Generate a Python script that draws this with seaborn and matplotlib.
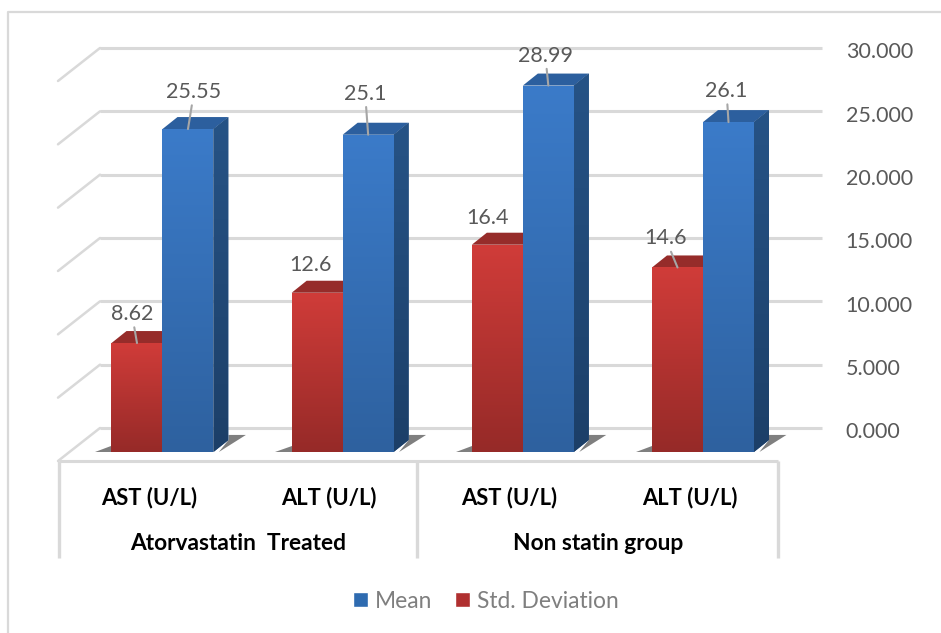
"""Atorvastatin vs non statin liver enzymes, drawn as a fake 3D column chart."""

import matplotlib
matplotlib.use("Agg")
import matplotlib.pyplot as plt
import numpy as np
import pandas as pd
import seaborn as sns
from matplotlib.colors import LinearSegmentedColormap
from matplotlib.lines import Line2D
from matplotlib.patches import Patch, Polygon
from matplotlib.transforms import ScaledTranslation

GROUPS = ["Atorvastatin  Treated", "Non statin group"]
ENZYMES = ["AST (U/L)", "ALT (U/L)", "AST (U/L)", "ALT (U/L)"]
CATEGORY_GROUP = [0, 0, 1, 1]
MEAN = [25.55, 25.1, 28.99, 26.1]
STD_DEV = [8.62, 12.6, 16.4, 14.6]
MEAN_TEXT = ["25.55", "25.1", "28.99", "26.1"]
STD_TEXT = ["8.62", "12.6", "16.4", "14.6"]
Y_TICKS = [0, 5, 10, 15, 20, 25, 30]

# layout, in pixels of the 941x633 picture
W, H = 941, 633
PX_PER_CAT = 180.2
PX_PER_UNIT = 12.64
DEPTH_PX = (15, 12)
MEAN_OFFSETS = [(6, 37), (-3, 41), (-3, 30), (-2, 31)]
STD_OFFSETS = [(-5, 29), (-7, 28), (-10, 27), (-12, 29)]
STD_LEADER = [True, False, False, True]

BLUE = {"front": ["#3B7BC9", "#2E619F"], "side": ["#265386", "#1C3F68"], "top": "#2C5F9E"}
RED = {"front": ["#D03C39", "#962A28"], "side": ["#7C2422", "#6E1F1E"], "top": "#962C2A"}
GRID = "#D9D9D9"
TEXT = "#595959"
SHADOW = "#5F5F5F"


def box(left, top, right, bottom):
    return [left / W, 1 - bottom / H, (right - left) / W, (bottom - top) / H]


def fig_line(fig, xs, ys, lw=2.0):
    fig.add_artist(Line2D([x / W for x in xs], [1 - y / H for y in ys],
                          color=GRID, lw=lw, solid_capstyle="butt"))


sns.set_theme(style="white")
plt.rcParams["font.family"] = ["Lato", "DejaVu Sans"]

df = pd.DataFrame({
    "category": [f"{GROUPS[g]} {e}" for g, e in zip(CATEGORY_GROUP, ENZYMES)] * 2,
    "series": ["Std. Deviation"] * 4 + ["Mean"] * 4,
    "value": STD_DEV + MEAN,
})

fig = plt.figure(figsize=(W / 100, H / 100), dpi=100, facecolor="white")

# --- outer frame ---
fig_line(fig, [8, 8, W], [H, 12, 12], lw=1.6)

# --- back wall: gridlines, side wall diagonals, value axis ---
wall = fig.add_axes(box(100, 48, 822, 428), zorder=1)
wall.set_xlim(100, 822)
wall.set_ylim(0, 30)
wall.patch.set_visible(False)
sns.despine(ax=wall, left=True, bottom=True, right=True, top=True)
wall.set_xticks([])
wall.yaxis.tick_right()
wall.set_yticks(Y_TICKS, [f"{t:.3f}" for t in Y_TICKS])
wall.tick_params(axis="y", length=0, pad=17, labelsize=15.5, labelcolor=TEXT)
nudge = ScaledTranslation(0, -2.5 / 100, fig.dpi_scale_trans)
for label in wall.get_yticklabels():
    label.set_transform(label.get_transform() + nudge)
for t in Y_TICKS:
    wall.plot([100, 822], [t, t], color=GRID, lw=2.2, clip_on=False, solid_capstyle="butt")
    wall.plot([100, 58], [t, t - 33 / 12.67], color=GRID, lw=1.8, clip_on=False)

# --- floor front edge and category dividers ---
fig_line(fig, [59, 778], [461, 461], lw=2.2)
for x in (59, 417, 778):
    fig_line(fig, [x, x], [461, 558], lw=2.4)

# --- bars ---
ax = fig.add_axes(box(162.5 - PX_PER_CAT / 2, 452 - 30 * PX_PER_UNIT,
                      703 + PX_PER_CAT / 2, 452), zorder=2)
ax.patch.set_visible(False)
sns.barplot(data=df, x="category", y="value", hue="series",
            hue_order=["Std. Deviation", "Mean"], palette=[RED["top"], BLUE["top"]],
            width=2 * 51 / PX_PER_CAT, gap=0, saturation=1, legend=False,
            linewidth=0, edgecolor="none", ax=ax)
ax.set_xlim(-0.5, 3.5)
ax.set_ylim(0, 30)
sns.despine(ax=ax, left=True, bottom=True)
ax.set_xlabel("")
ax.set_ylabel("")
ax.set_yticks([])

dx = DEPTH_PX[0] / PX_PER_CAT
dy = DEPTH_PX[1] / PX_PER_UNIT
styles = [(RED, 3), (BLUE, 6)]
for container, (style, z) in zip(ax.containers, styles):
    cmap = LinearSegmentedColormap.from_list("front", style["front"])
    side_cmap = LinearSegmentedColormap.from_list("side", style["side"])
    grad = np.linspace(0, 1, 128)[:, None]
    for bar in container:
        x0, x1 = bar.get_x(), bar.get_x() + bar.get_width()
        h = bar.get_height()
        # floor shadow either side of the column
        if style is BLUE:
            ax.add_patch(Polygon([(x1 + 0.03, 0), (x1 + 0.18, 1.35), (x1 + dx, 1.35), (x1 + dx, dy)],
                                 closed=True, color=SHADOW, alpha=0.8, lw=0,
                                 clip_on=False, zorder=1.5))
        else:
            ax.add_patch(Polygon([(x0 - 0.09, 0), (x0, 0), (x0, 0.5)], closed=True,
                                 color=SHADOW, alpha=0.8, lw=0, clip_on=False, zorder=1.5))
        top = Polygon([(x0, h), (x1, h), (x1 + dx, h + dy), (x0 + dx, h + dy)], closed=True,
                      color=style["top"], lw=0, clip_on=False, zorder=z)
        ax.add_patch(top)
        side = Polygon([(x1, 0), (x1 + dx, dy), (x1 + dx, h + dy), (x1, h)], closed=True,
                       color=style["side"][0], lw=0, clip_on=False, zorder=z)
        ax.add_patch(side)
        img = ax.imshow(grad, cmap=side_cmap, extent=(x1, x1 + dx, 0, h + dy), origin="upper",
                        aspect="auto", zorder=z + 0.1, clip_on=True)
        img.set_clip_path(side)
        bar.set_zorder(z + 0.2)
        img = ax.imshow(grad, cmap=cmap, extent=(x0, x1, 0, h), origin="upper",
                        aspect="auto", zorder=z + 0.3)
        img.set_clip_path(bar)
ax.set_xlim(-0.5, 3.5)
ax.set_ylim(0, 30)

# --- data labels with leader lines ---
leader = dict(arrowstyle="-", color="#A6A6A6", lw=1.5, shrinkA=0, shrinkB=0)
for container, texts, offsets, leaders in [
    (ax.containers[0], STD_TEXT, STD_OFFSETS, STD_LEADER),
    (ax.containers[1], MEAN_TEXT, MEAN_OFFSETS, [True] * 4),
]:
    for bar, text, off, show in zip(container, texts, offsets, leaders):
        ax.annotate(text, xy=(bar.get_x() + bar.get_width() / 2, bar.get_height()),
                    xytext=off, textcoords="offset pixels", ha="center", va="center",
                    fontsize=15.5, color=TEXT, zorder=12, annotation_clip=False,
                    arrowprops=leader if show else None)

# --- two level category axis ---
ax.set_xticks(np.arange(len(ENZYMES)) - 13.5 / PX_PER_CAT, ENZYMES)
ax.tick_params(axis="x", length=0, pad=25, labelsize=15.8, labelcolor="black")
for label in ax.get_xticklabels():
    label.set_fontweight("bold")
for text, x in zip(GROUPS, (238, 598)):
    fig.text(x / W, 1 - 544 / H, text, ha="center", va="center", fontsize=16.4,
             fontweight="bold", color="black")

# --- legend ---
handles = [Patch(facecolor="#2E6BB0", label="Mean"),
           Patch(facecolor="#B03030", label="Std. Deviation")]
fig.legend(handles=handles, loc="center", bbox_to_anchor=(486 / W, 1 - 601 / H), ncol=2,
           frameon=False, handlelength=0.66, handleheight=0.66, handletextpad=0.3,
           columnspacing=1.0, labelcolor="#7F7F7F", fontsize=16.4)

fig.savefig("out.png", dpi=100, facecolor="white")
